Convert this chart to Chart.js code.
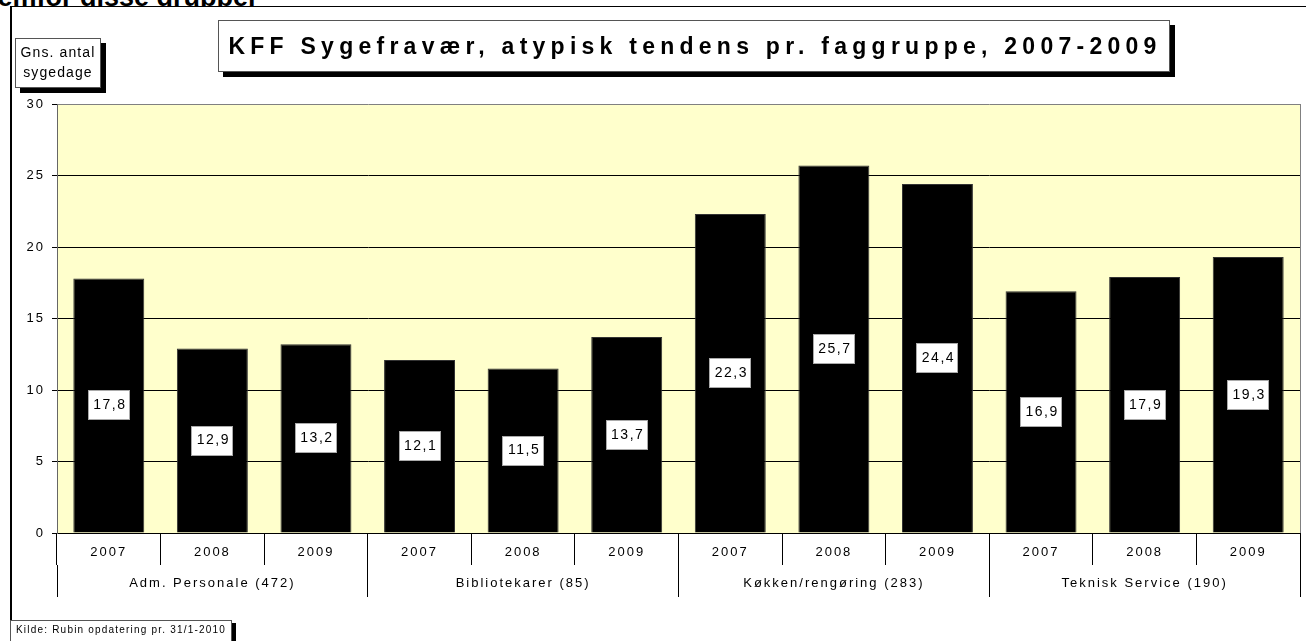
<!DOCTYPE html>
<html>
<head>
<meta charset="utf-8">
<script src="https://cdn.jsdelivr.net/npm/chart.js@4.4.1/dist/chart.umd.min.js"></script>
<style>
    body { margin: 0; width: 1306px; height: 641px; overflow: hidden; background: #fff;
           font-family: "Liberation Sans", Arial, sans-serif; color: #000; }
    #headline { position: absolute; left: -22px; top: -16px; font-size: 27px; font-weight: bold;
                line-height: 27px; white-space: nowrap; }
    #frame { position: absolute; left: 10px; top: 6px; width: 1320px; height: 660px; background: #fff;
             border-top: 1px solid #000; border-left: 2px solid #000; }
    #chartCanvas { position: absolute; left: 0; top: 0; }
    .box { position: absolute; background: #fff; border: 1px solid #555; box-shadow: 5px 5px 0 #000; }
    #title { left: 218px; top: 20px; width: 950px; height: 50px; font-weight: bold; font-size: 23px;
             letter-spacing: 5.25px; line-height: 50px; text-indent: 2px; text-align: center; }
    #yTitle { left: 15px; top: 38px; width: 86px; height: 50px; font-size: 14px; letter-spacing: 1.1px;
              line-height: 20px; text-align: center; padding-top: 3px; box-sizing: border-box; }
    #source { left: 10px; top: 620px; width: 222px; height: 30px; font-size: 10px; letter-spacing: 1.2px;
              line-height: 18px; padding-left: 5px; box-sizing: border-box; box-shadow: 4px 3px 0 #000;
              white-space: nowrap; overflow: hidden; }
</style>
</head>
<body>
<div id="headline">fremfor disse grupper</div>
<div id="frame"></div>
<canvas id="chartCanvas" width="1306" height="641"></canvas>
<div class="box" id="title">KFF Sygefravær, atypisk tendens pr. faggruppe, 2007-2009</div>
<div class="box" id="yTitle">Gns. antal<br>sygedage</div>
<div class="box" id="source">Kilde: Rubin opdatering pr. 31/1-2010</div>
<script>
const groups = ['Adm. Personale (472)', 'Bibliotekarer (85)', 'Køkken/rengøring (283)', 'Teknisk Service (190)'];
const years = ['2007', '2008', '2009'];
const sickDays = [17.8, 12.9, 13.2, 12.1, 11.5, 13.7, 22.3, 25.7, 24.4, 16.9, 17.9, 19.3];
const yTicks = [0, 5, 10, 15, 20, 25, 30];

const FONT = '"Liberation Sans", Arial, sans-serif';

// yellow plot background, letter spacing for all canvas text, gray right border
const plotDecor = {
    id: 'plotDecor',
    beforeDraw(chart) {
        const { ctx, chartArea } = chart;
        ctx.letterSpacing = '2px';
        ctx.save();
        ctx.fillStyle = '#FFFFCC';
        ctx.fillRect(chartArea.left, chartArea.top, chartArea.right - chartArea.left, chartArea.bottom - chartArea.top);
        ctx.restore();
    },
    afterDraw(chart) {
        const { ctx, chartArea } = chart;
        ctx.save();
        ctx.strokeStyle = '#808080';
        ctx.lineWidth = 1;
        ctx.beginPath();
        ctx.moveTo(chartArea.right + 0.5, chartArea.top);
        ctx.lineTo(chartArea.right + 0.5, chartArea.bottom);
        ctx.stroke();
        ctx.restore();
    }
};

// white value boxes in the middle of each bar
const valueBoxes = {
    id: 'valueBoxes',
    afterDatasetsDraw(chart) {
        const ctx = chart.ctx;
        const meta = chart.getDatasetMeta(0);
        ctx.save();
        ctx.font = '14px ' + FONT;
        ctx.letterSpacing = '1.5px';
        ctx.textAlign = 'center';
        ctx.textBaseline = 'middle';
        meta.data.forEach((bar, i) => {
            const cy = (bar.y + bar.base) / 2;
            const w = 42, h = 30;
            ctx.fillStyle = '#fff';
            ctx.fillRect(Math.round(bar.x - w / 2), Math.round(cy - h / 2), w, h);
            ctx.strokeStyle = '#aaa';
            ctx.lineWidth = 1;
            ctx.strokeRect(Math.round(bar.x - w / 2) + 0.5, Math.round(cy - h / 2) + 0.5, w - 1, h - 1);
            ctx.fillStyle = '#000';
            ctx.fillText(sickDays[i].toFixed(1).replace('.', ','), bar.x + 1, cy);
        });
        ctx.restore();
    }
};

const data = {
    labels: groups.flatMap(() => years),
    datasets: [{
        data: sickDays,
        backgroundColor: '#000',
        borderColor: '#333',
        borderWidth: 1,
        barPercentage: 0.685,
        categoryPercentage: 1
    }]
};

const config = {
    type: 'bar',
    data: data,
    options: {
        responsive: false,
        animation: false,
        devicePixelRatio: 1,
        layout: { padding: { left: 0, top: 104, right: 6, bottom: 44 } },
        plugins: {
            legend: { display: false },
            tooltip: { enabled: false }
        },
        scales: {
            x: {
                weight: 0,
                offset: true,
                grid: { offset: true, drawOnChartArea: false, tickLength: 32, color: '#000', lineWidth: 1 },
                border: { color: '#000' },
                ticks: { color: '#000', font: { family: FONT, size: 13 }, padding: -20.3, maxRotation: 0, autoSkip: false },
                afterFit(scale) { scale.height = 32; }
            },
            x2: {
                type: 'category',
                labels: groups,
                position: 'bottom',
                weight: 1,
                offset: true,
                grid: { offset: true, drawOnChartArea: false, tickLength: 32, color: '#000', lineWidth: 1 },
                border: { display: false },
                ticks: { color: '#000', font: { family: FONT, size: 13 }, padding: -21.8, maxRotation: 0, autoSkip: false },
                afterFit(scale) { scale.height = 32; }
            },
            y: {
                min: 0,
                max: 30,
                afterBuildTicks(scale) { scale.ticks = yTicks.map(v => ({ value: v })); },
                grid: {
                    color: ctx => ctx.tick && ctx.tick.value === 30 ? '#808080' : '#000',
                    lineWidth: 1,
                    tickLength: 5,
                    tickColor: '#000'
                },
                border: { color: '#666' },
                ticks: { color: '#000', font: { family: FONT, size: 13 }, padding: 7 },
                afterFit(scale) { scale.width = 57; }
            }
        }
    },
    plugins: [plotDecor, valueBoxes]
};

const canvas = document.getElementById('chartCanvas');
const chartInstance = new Chart(canvas.getContext('2d'), config);
</script>
</body>
</html>
